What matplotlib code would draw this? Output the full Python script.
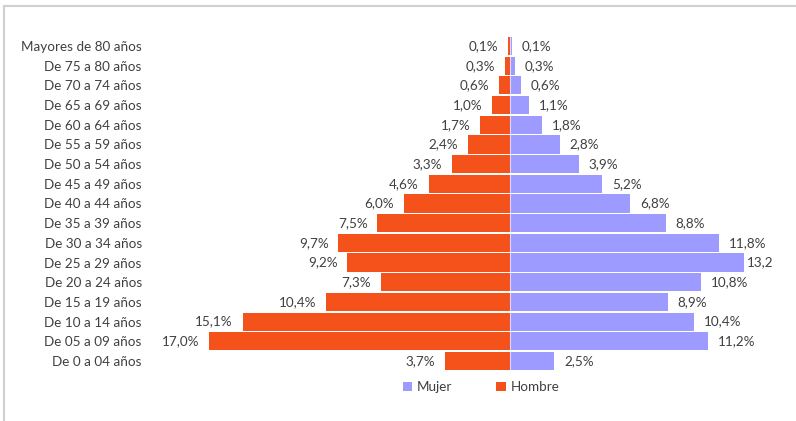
import matplotlib
matplotlib.use("Agg")
import matplotlib.pyplot as plt
from matplotlib.lines import Line2D
from matplotlib.patches import Patch

# Age groups, youngest first (bottom of the pyramid)
grupos = [
    "De 0 a 04 años", "De 05 a 09 años", "De 10 a 14 años", "De 15 a 19 años",
    "De 20 a 24 años", "De 25 a 29 años", "De 30 a 34 años", "De 35 a 39 años",
    "De 40 a 44 años", "De 45 a 49 años", "De 50 a 54 años", "De 55 a 59 años",
    "De 60 a 64 años", "De 65 a 69 años", "De 70 a 74 años", "De 75 a 80 años",
    "Mayores de 80 años",
]
hombre = [3.7, 17.0, 15.1, 10.4, 7.3, 9.2, 9.7, 7.5, 6.0, 4.6, 3.3, 2.4, 1.7, 1.0, 0.6, 0.3, 0.1]
mujer = [2.5, 11.2, 10.4, 8.9, 10.8, 13.2, 11.8, 8.8, 6.8, 5.2, 3.9, 2.8, 1.8, 1.1, 0.6, 0.3, 0.1]

C_HOMBRE = "#F5511A"
C_MUJER = "#9D9BFF"
TXT = "#404040"
FS = 9.7

plt.rcParams["font.family"] = ["Lato", "DejaVu Sans"]

W, H = 796, 421
fig = plt.figure(figsize=(W / 100, H / 100), dpi=100)

# axes geometry in pixels
center_px, px_per_unit = 510, 17.7
ax_left_px, ax_right_px = 146, 780
ax_top_px, ax_bot_px = 36.2, 370.8
ax = fig.add_axes([ax_left_px / W, 1 - ax_bot_px / H,
                   (ax_right_px - ax_left_px) / W, (ax_bot_px - ax_top_px) / H])
ax.set_xlim(-(center_px - ax_left_px) / px_per_unit, (ax_right_px - center_px) / px_per_unit)
ax.set_ylim(-0.5, len(grupos) - 0.5)

y = list(range(len(grupos)))
ax.barh(y, [-v for v in hombre], height=0.92, color=C_HOMBRE, linewidth=0)
ax.barh(y, mujer, height=0.92, color=C_MUJER, linewidth=0)
ax.axvline(0, color="white", linewidth=0.8, alpha=0.6)

def fmt(v):
    return f"{v:.1f}".replace(".", ",") + "%"

for yi, v in zip(y, hombre):
    ax.annotate(fmt(v), (-v, yi), xytext=(-7, 0), textcoords="offset points",
                ha="right", va="center", fontsize=FS, color=TXT)
for yi, v in zip(y, mujer):
    label = fmt(v)
    off = 7
    if v == max(mujer):
        label = label.rstrip("%")  # label is clipped at the chart edge
        off = 2
    ax.annotate(label, (v, yi), xytext=(off, 0), textcoords="offset points",
                ha="left", va="center", fontsize=FS, color=TXT)

ax.set_yticks(y)
ax.set_yticklabels(grupos, fontsize=FS, color=TXT)
ax.tick_params(axis="y", length=0, pad=3)
ax.set_xticks([])
for s in ax.spines.values():
    s.set_visible(False)

# legend below the pyramid
handles = [Patch(facecolor=C_MUJER, edgecolor="none"),
           Patch(facecolor=C_HOMBRE, edgecolor="none")]
fig.legend(handles, ["Mujer", "Hombre"], loc="center", ncol=2,
           bbox_to_anchor=(481 / W, 1 - 387 / H), frameon=False,
           fontsize=FS, labelcolor=TXT, handlelength=0.7, handleheight=0.7,
           handletextpad=0.35, columnspacing=3.3)

# chart frame edges
fig.add_artist(Line2D([4 / W, 4 / W], [0, 1 - 6 / H], transform=fig.transFigure,
                      color="#D0D0D0", linewidth=1.5))
fig.add_artist(Line2D([4 / W, 1], [1 - 6 / H, 1 - 6 / H], transform=fig.transFigure,
                      color="#D0D0D0", linewidth=1.5))

fig.savefig("out.png", dpi=100, facecolor="white")
